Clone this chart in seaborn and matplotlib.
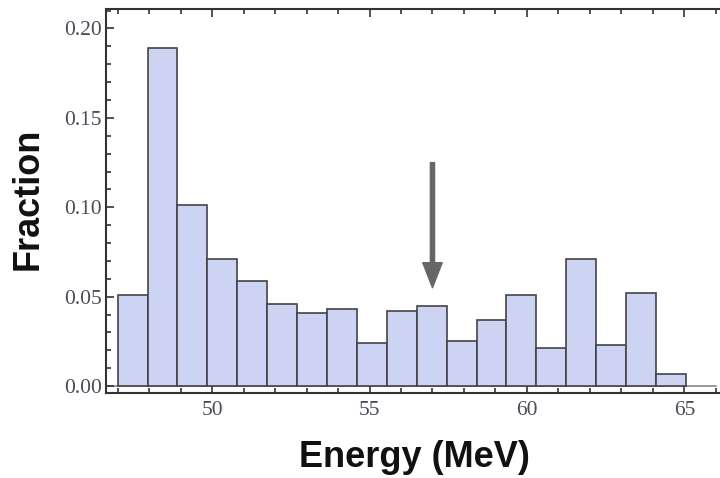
import numpy as np
import pandas as pd
import matplotlib
matplotlib.use("Agg")
import matplotlib.pyplot as plt
import seaborn as sns
from matplotlib.ticker import MultipleLocator, FormatStrFormatter

# ---- data ----
bin_start = 47.0        # MeV, left edge of first bin
bin_width = 0.95        # MeV
fractions = [0.051, 0.189, 0.101, 0.071, 0.059, 0.046, 0.041, 0.043, 0.024,
             0.042, 0.045, 0.025, 0.037, 0.051, 0.021, 0.071, 0.023, 0.052, 0.007]
arrow_energy = 57.0
arrow_from = 0.125
arrow_to = 0.055
x_label = "Energy (MeV)"
y_label = "Fraction"

edges = bin_start + bin_width * np.arange(len(fractions) + 1)
centers = (edges[:-1] + edges[1:]) / 2
df = pd.DataFrame({"energy": centers, "fraction": fractions})

sns.set_theme(style="white")
plt.rcParams['font.family'] = ['DejaVu Sans']

fig = plt.figure(figsize=(7.2, 4.78), dpi=100)
ax = fig.add_axes([106/720, 1 - 393/478, 624/720, 384/478])

sns.histplot(data=df, x="energy", weights="fraction", bins=[float(e) for e in edges],
             stat="count", color="#ccd3f3", edgecolor="#444444", linewidth=1.2,
             alpha=1.0, ax=ax)

xlo, xhi = 46.63, 66.45
ax.set_xlim(xlo, xhi)
ax.set_ylim(-0.0039, 0.2109)

# baseline at y = 0
ax.axhline(0, xmin=0, xmax=(66.0 - xlo) / (xhi - xlo), color="#888888", lw=1.2, zorder=0.5)

# arrow
ax.annotate("", xy=(arrow_energy, arrow_to), xytext=(arrow_energy, arrow_from),
            arrowprops=dict(width=3, headwidth=14, headlength=18,
                            color="#666666", shrink=0))

# frame
for s in ax.spines.values():
    s.set_color("#333333")
    s.set_linewidth(1.5)
    s.set_visible(True)

ax.xaxis.set_major_locator(MultipleLocator(5))
ax.xaxis.set_minor_locator(MultipleLocator(1))
ax.yaxis.set_major_locator(MultipleLocator(0.05))
ax.yaxis.set_minor_locator(MultipleLocator(0.01))
ax.yaxis.set_major_formatter(FormatStrFormatter("%.2f"))

ax.tick_params(which="both", direction="in", top=True, bottom=True, left=True, right=True,
               color="#333333", width=1.2)
ax.tick_params(which="major", length=6)
ax.tick_params(which="minor", length=3.5)
ax.tick_params(axis="x", which="major", pad=6)
ax.tick_params(axis="y", which="major", pad=3)
for lab in ax.get_xticklabels() + ax.get_yticklabels():
    lab.set_family("Liberation Serif")
    lab.set_fontsize(15.5)
    lab.set_color("#4e4a58")

ax.set_xlabel(x_label, fontsize=26, fontweight="bold", family="Liberation Sans", color="#111111")
ax.set_ylabel(y_label, fontsize=26, fontweight="bold", family="Liberation Sans", color="#111111")
ax.xaxis.set_label_coords((414 - 106) / 624, -0.122)
ax.yaxis.set_label_coords(-0.097, 0.505)
ax.grid(False)

fig.savefig("out.png", dpi=100)
